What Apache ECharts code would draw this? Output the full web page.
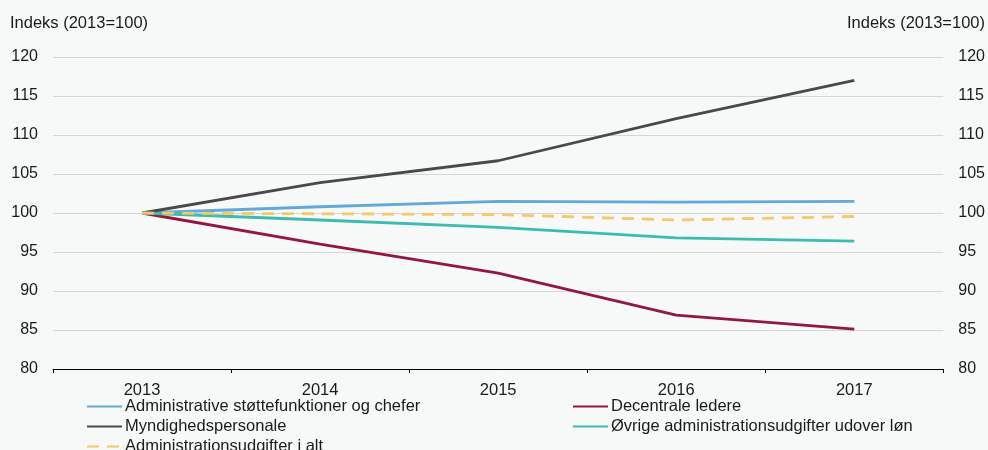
<!DOCTYPE html>
<html>
<head>
<meta charset="utf-8">
<script src="https://cdn.jsdelivr.net/npm/echarts@6/dist/echarts.min.js"></script>
<style>
html,body{margin:0;padding:0;background:#f7f9f9;}
#c{width:988px;height:450px;}
</style>
</head>
<body>
<div id="c"></div>
<script>
const years = ['2013','2014','2015','2016','2017'];
const adminStotte = [100, 100.8, 101.5, 101.4, 101.5];
const decentrale = [100, 96.0, 92.3, 86.9, 85.1];
const myndighed = [100, 103.9, 106.7, 112.1, 117.0];
const ovrige = [100, 99.1, 98.15, 96.8, 96.4];
const iAlt = [100, 99.9, 99.8, 99.1, 99.55];
const yTicks = {min: 80, max: 120, interval: 5};
const axisName = 'Indeks (2013=100)';

const names = {
  a: 'Administrative støttefunktioner og chefer',
  d: 'Decentrale ledere',
  m: 'Myndighedspersonale',
  o: 'Øvrige administrationsudgifter udover løn',
  t: 'Administrationsudgifter i alt'
};

const font = 'Liberation Sans, Arial, Helvetica, sans-serif';
const txt = '#1a1a1a';
const chart = echarts.init(document.getElementById('c'));
const mk = (name, data, color, dashed) => ({
  name, type: 'line', data, symbol: 'none', showSymbol: false, smooth: false,
  lineStyle: {color, width: 2.8, type: dashed ? [12, 8] : 'solid'},
  itemStyle: {color}
});
const yBase = {
  type: 'value', min: yTicks.min, max: yTicks.max, interval: yTicks.interval,
  axisLine: {show: false}, axisTick: {show: false},
  axisLabel: {fontSize: 16, color: txt, fontFamily: font, margin: 15}
};
const lg = (name, left, top) => ({
  orient: 'horizontal', left, top, padding: 0, itemWidth: 35, itemHeight: 14,
  data: [name], itemStyle: {opacity: 0, borderWidth: 0},
  textStyle: {fontSize: 16.5, color: txt, fontFamily: font, padding: [0,0,0,-2]}
});
chart.setOption({
  backgroundColor: '#f7f9f9',
  animation: false,
  grid: {left: 53, right: 44, top: 57, bottom: 81, containLabel: false},
  xAxis: {
    type: 'category', data: years, boundaryGap: true,
    axisLine: {lineStyle: {color: '#000', width: 1}},
    axisTick: {show: true, length: 4, lineStyle: {color: '#000'}},
    axisLabel: {fontSize: 16.5, color: txt, fontFamily: font, margin: 13}
  },
  yAxis: [
    Object.assign({}, yBase, {position: 'left', splitLine: {lineStyle: {color: '#d6d6d6', width: 1}}}),
    Object.assign({}, yBase, {position: 'right', splitLine: {show: false}})
  ],
  graphic: [
    {type: 'text', left: 10, top: 15, style: {text: axisName, font: '16.5px ' + font, fill: txt}},
    {type: 'text', right: 3, top: 15, style: {text: axisName, font: '16.5px ' + font, fill: txt}}
  ],
  legend: [
    lg(names.a, 86, 398),
    lg(names.m, 86, 418),
    lg(names.t, 86, 438),
    lg(names.d, 572, 398),
    lg(names.o, 572, 418)
  ],
  series: [
    mk(names.a, adminStotte, '#62a8d8'),
    mk(names.d, decentrale, '#93183f'),
    mk(names.m, myndighed, '#48484e'),
    mk(names.o, ovrige, '#3bbcae'),
    mk(names.t, iAlt, '#f5c868', true)
  ]
});
</script>
</body>
</html>
